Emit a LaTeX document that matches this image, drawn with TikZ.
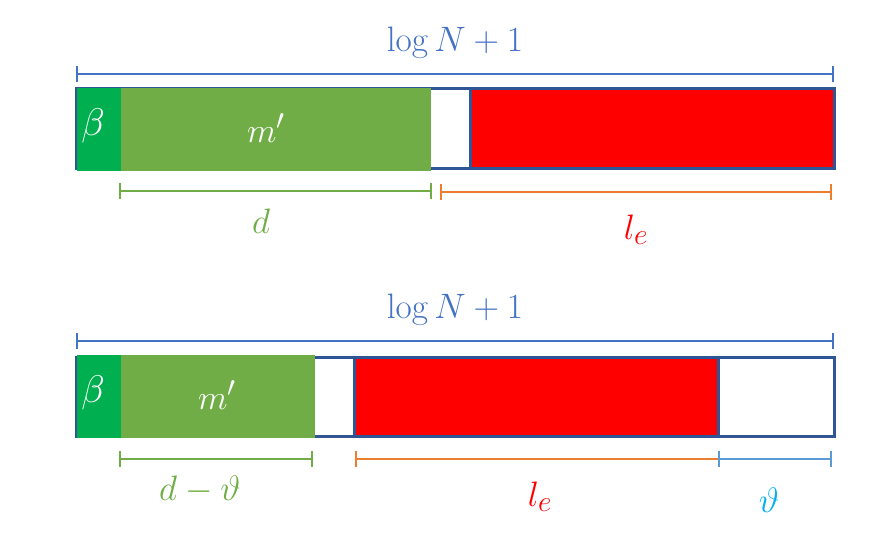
\documentclass[tikz,border=0pt]{standalone}
\usetikzlibrary{arrows.meta}
\definecolor{outl}{HTML}{2F5597}
\definecolor{dimblue}{HTML}{4472C4}
\definecolor{gbeta}{HTML}{00B050}
\definecolor{gm}{HTML}{70AD47}
\definecolor{orng}{HTML}{ED7D31}
\definecolor{lblue}{HTML}{5B9BD5}
\definecolor{cyanv}{HTML}{00B0F0}
\begin{document}
\begin{tikzpicture}[x=1pt,y=-1pt,
  box/.style={draw=outl,line width=3pt},
  dimline/.style={line width=1.8pt,{Bar[width=16pt]}-{Bar[width=16pt]}},
  dimlineL/.style={line width=1.8pt,{Bar[width=16pt]}-},
  lbl/.style={inner sep=0pt,font=\Huge,scale=1.42},
  inlbl/.style={inner sep=0pt,text=white,font=\Huge,scale=1.38},
  betalbl/.style={inner sep=0pt,text=white,font=\Huge,scale=1.55}]
\useasboundingbox (0,0) rectangle (869,534);
% ---------- top bar ----------
\node[lbl,text=dimblue] (t1) at (455,43) {$\log N+1$};
\draw[dimline,dimblue] (76,74) -- (834,74);
\draw[box,fill=white] (76,89) rectangle (834,169);
\draw[box,fill=red] (470,89) rectangle (834,169);
\fill[gbeta] (77,88) rectangle (121,171);
\fill[gm] (121,88) rectangle (431,171);
\node[betalbl] (b1) at (93,126) {$\beta$};
\node[inlbl] (m1) at (266,128) {$m'$};
\draw[dimline,gm] (119,191) -- (432,191);
\draw[dimline,orng] (440,192) -- (832,192);
\node[lbl,text=gm] (d1) at (261,221) {$d$};
\node[lbl,text=red] (l1) at (636,230) {$l_e$};
% ---------- bottom bar ----------
\node[lbl,text=dimblue] (t2) at (455,310) {$\log N+1$};
\draw[dimline,dimblue] (76,341) -- (834,341);
\draw[box,fill=white] (76,357) rectangle (834,436);
\draw[box,fill=red] (354,357) rectangle (718,436);
\fill[gbeta] (77,355) rectangle (121,438);
\fill[gm] (121,355) rectangle (315,438);
\node[betalbl] (b2) at (93,393) {$\beta$};
\node[inlbl] (m2) at (217,395) {$m'$};
\draw[dimline,gm] (119,459) -- (313,459);
\draw[dimlineL,orng] (355,459) -- (718,459);
\draw[dimline,lblue] (718,459) -- (832,459);
\node[lbl,text=gm] (d2) at (200,490) {$d-\vartheta$};
\node[lbl,text=red] (l2) at (540,497) {$l_e$};
\node[lbl,text=cyanv] (v2) at (769,500) {$\vartheta$};
\end{tikzpicture}
\end{document}
